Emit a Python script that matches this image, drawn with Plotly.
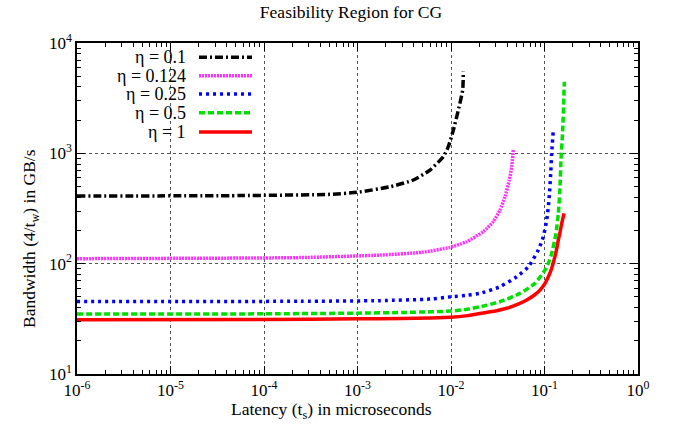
import plotly.graph_objects as go

# ---- data (latency in microseconds, bandwidth in GB/s) ----
labels = ["η = 0.1", "η = 0.124", "η = 0.25", "η = 0.5", "η = 1"]

x_01 = [1e-6, 5.5e-5, 5.08e-4, 9.8e-4, 2.23e-3, 3.96e-3, 5.96e-3, 8.27e-3, 9.36e-3, 0.0106, 0.01198, 0.01334, 0.01355]
y_01 = [410, 414, 425, 443, 498, 573, 706, 932, 1148, 1626, 2470, 3750, 5500]

x_0124 = [1e-6, 2.43e-4, 1.74e-3, 5e-3, 9.75e-3, 0.0147, 0.0221, 0.0283, 0.0334, 0.0378, 0.0420, 0.0446, 0.0464]
y_0124 = [111, 113.5, 119.6, 127, 140.6, 158, 195, 240, 306, 404, 573, 757, 1072]

x_025 = [1e-6, 2.43e-4, 1.74e-3, 6e-3, 0.01, 0.015, 0.0204, 0.0334, 0.0504, 0.0672, 0.0859, 0.0971, 0.1055, 0.1117, 0.1165, 0.1194, 0.1242]
y_025 = [45.3, 45.6, 46.2, 47.8, 50.1, 51.8, 53.8, 61.8, 76.1, 93.7, 133, 175, 248, 377, 659, 1000, 1626]

x_05 = [1e-6, 1e-4, 1e-3, 3e-3, 6e-3, 0.01, 0.015, 0.0204, 0.0334, 0.0547, 0.0791, 0.1012, 0.111, 0.1194, 0.1327, 0.1406, 0.1466, 0.150, 0.1566, 0.163]
y_05 = [34.9, 35.1, 35.6, 36.1, 36.6, 37.2, 38.7, 40.6, 45.2, 53.8, 66.3, 87.4, 103, 124, 188, 286, 498, 869, 1626, 4456]

x_1 = [1e-6, 1e-4, 1e-3, 3e-3, 6e-3, 0.01, 0.015, 0.0204, 0.03, 0.0394, 0.05, 0.0646, 0.078, 0.0895, 0.1, 0.1099, 0.119, 0.1265, 0.134, 0.1406, 0.147, 0.1528, 0.1618]
y_1 = [31.1, 31.2, 31.6, 31.9, 32.2, 32.6, 33.8, 35.4, 37.3, 39.4, 42.3, 46.8, 52, 57.6, 65, 76.1, 90, 108, 132, 164, 195, 232, 286]

x_tickvals = [1e-6, 1e-5, 1e-4, 1e-3, 1e-2, 1e-1, 1]
x_ticktext = ["10<sup>-6</sup>", "10<sup>-5</sup>", "10<sup>-4</sup>", "10<sup>-3</sup>",
              "10<sup>-2</sup>", "10<sup>-1</sup>", "10<sup>0</sup>"]
y_tickvals = [10, 100, 1000, 10000]
y_ticktext = ["10<sup>1</sup>", "10<sup>2</sup>", "10<sup>3</sup>", "10<sup>4</sup>"]

x_minor = [k * 10.0 ** e for e in range(-6, 0) for k in range(2, 10)]
y_minor = [k * 10.0 ** e for e in range(1, 4) for k in range(2, 10)]

xs = [x_01, x_0124, x_025, x_05, x_1]
ys = [y_01, y_0124, y_025, y_05, y_1]
colors = ["#000000", "#ff33ff", "#0000ff", "#00e000", "#ff0000"]
dashes = ["8px,3px,2px,3px", "2px,1px", "3px,4px", "6px,3px", "solid"]
widths = [3.5, 3.5, 3.5, 3.5, 3.5]

FONT = "Liberation Serif, Times New Roman, serif"

fig = go.Figure()
for x, y, c, d, w, name in zip(xs, ys, colors, dashes, widths, labels):
    fig.add_trace(go.Scatter(x=x, y=y, mode="lines", name=name, showlegend=False,
                             line=dict(color=c, dash=d, width=w, shape="spline", smoothing=0.5)))

FIG_W, FIG_H = 678, 433
L, T, W, H = 77, 43, 561, 331  # plot area in page pixels

# manual legend: text to the left of the line sample (as in the reference)
legend_rows_y = [57.3, 75.7, 94, 112.7, 132]
for name, c, d, w, py in zip(labels, colors, dashes, widths, legend_rows_y):
    yp = (H + T - py) / H
    fig.add_annotation(x=(188 - L) / W, y=yp, xref="paper", yref="paper", text=name,
                       showarrow=False, xanchor="right", yanchor="middle",
                       font=dict(family=FONT, size=18, color="black"))
    fig.add_shape(type="line", xref="paper", yref="paper",
                  x0=(199 - L) / W, x1=(252 - L) / W, y0=yp, y1=yp,
                  line=dict(color=c, dash=d, width=w))

# axis titles (slightly off-centre, as in the reference)
fig.add_annotation(x=(331 - L) / W, y=(T + H - 410) / H, xref="paper", yref="paper",
                   text="Latency (t<sub>s</sub>) in microseconds", showarrow=False,
                   xanchor="center", yanchor="middle",
                   font=dict(family=FONT, size=17.5, color="black"))
fig.add_annotation(x=(30 - L) / W, y=(T + H - 238) / H, xref="paper", yref="paper",
                   text="Bandwidth (4/t<sub>w</sub>) in GB/s", showarrow=False, textangle=-90,
                   xanchor="center", yanchor="middle",
                   font=dict(family=FONT, size=17.5, color="black"))

axis_common = dict(
    type="log", showline=True, mirror="allticks", linecolor="black", linewidth=1.5,
    ticks="inside", ticklen=8, tickcolor="black", tickwidth=1,
    showgrid=True, gridcolor="#555555", griddash="dot", gridwidth=1,
    zeroline=False, tickfont=dict(family=FONT, size=17, color="black"),
)

fig.update_layout(
    width=FIG_W, height=FIG_H,
    margin=dict(l=L, r=FIG_W - L - W, t=T, b=FIG_H - T - H),
    paper_bgcolor="white", plot_bgcolor="white",
    title=dict(text="Feasibility Region for CG", x=351 / FIG_W, xanchor="center",
               y=1 - 12 / FIG_H, yanchor="middle",
               font=dict(family=FONT, size=17.5, color="black")),
    xaxis=dict(axis_common, range=[-6, 0], tickvals=x_tickvals, ticktext=x_ticktext,
               minor=dict(tickvals=x_minor, ticks="inside", ticklen=4, tickcolor="black", showgrid=False)),
    yaxis=dict(axis_common, range=[1, 4], tickvals=y_tickvals, ticktext=y_ticktext,
               minor=dict(tickvals=y_minor, ticks="inside", ticklen=4, tickcolor="black", showgrid=False)),
    showlegend=False,
)

fig.write_html("out.html", config={"displayModeBar": False},
               post_script="document.body.style.margin='0px';")
